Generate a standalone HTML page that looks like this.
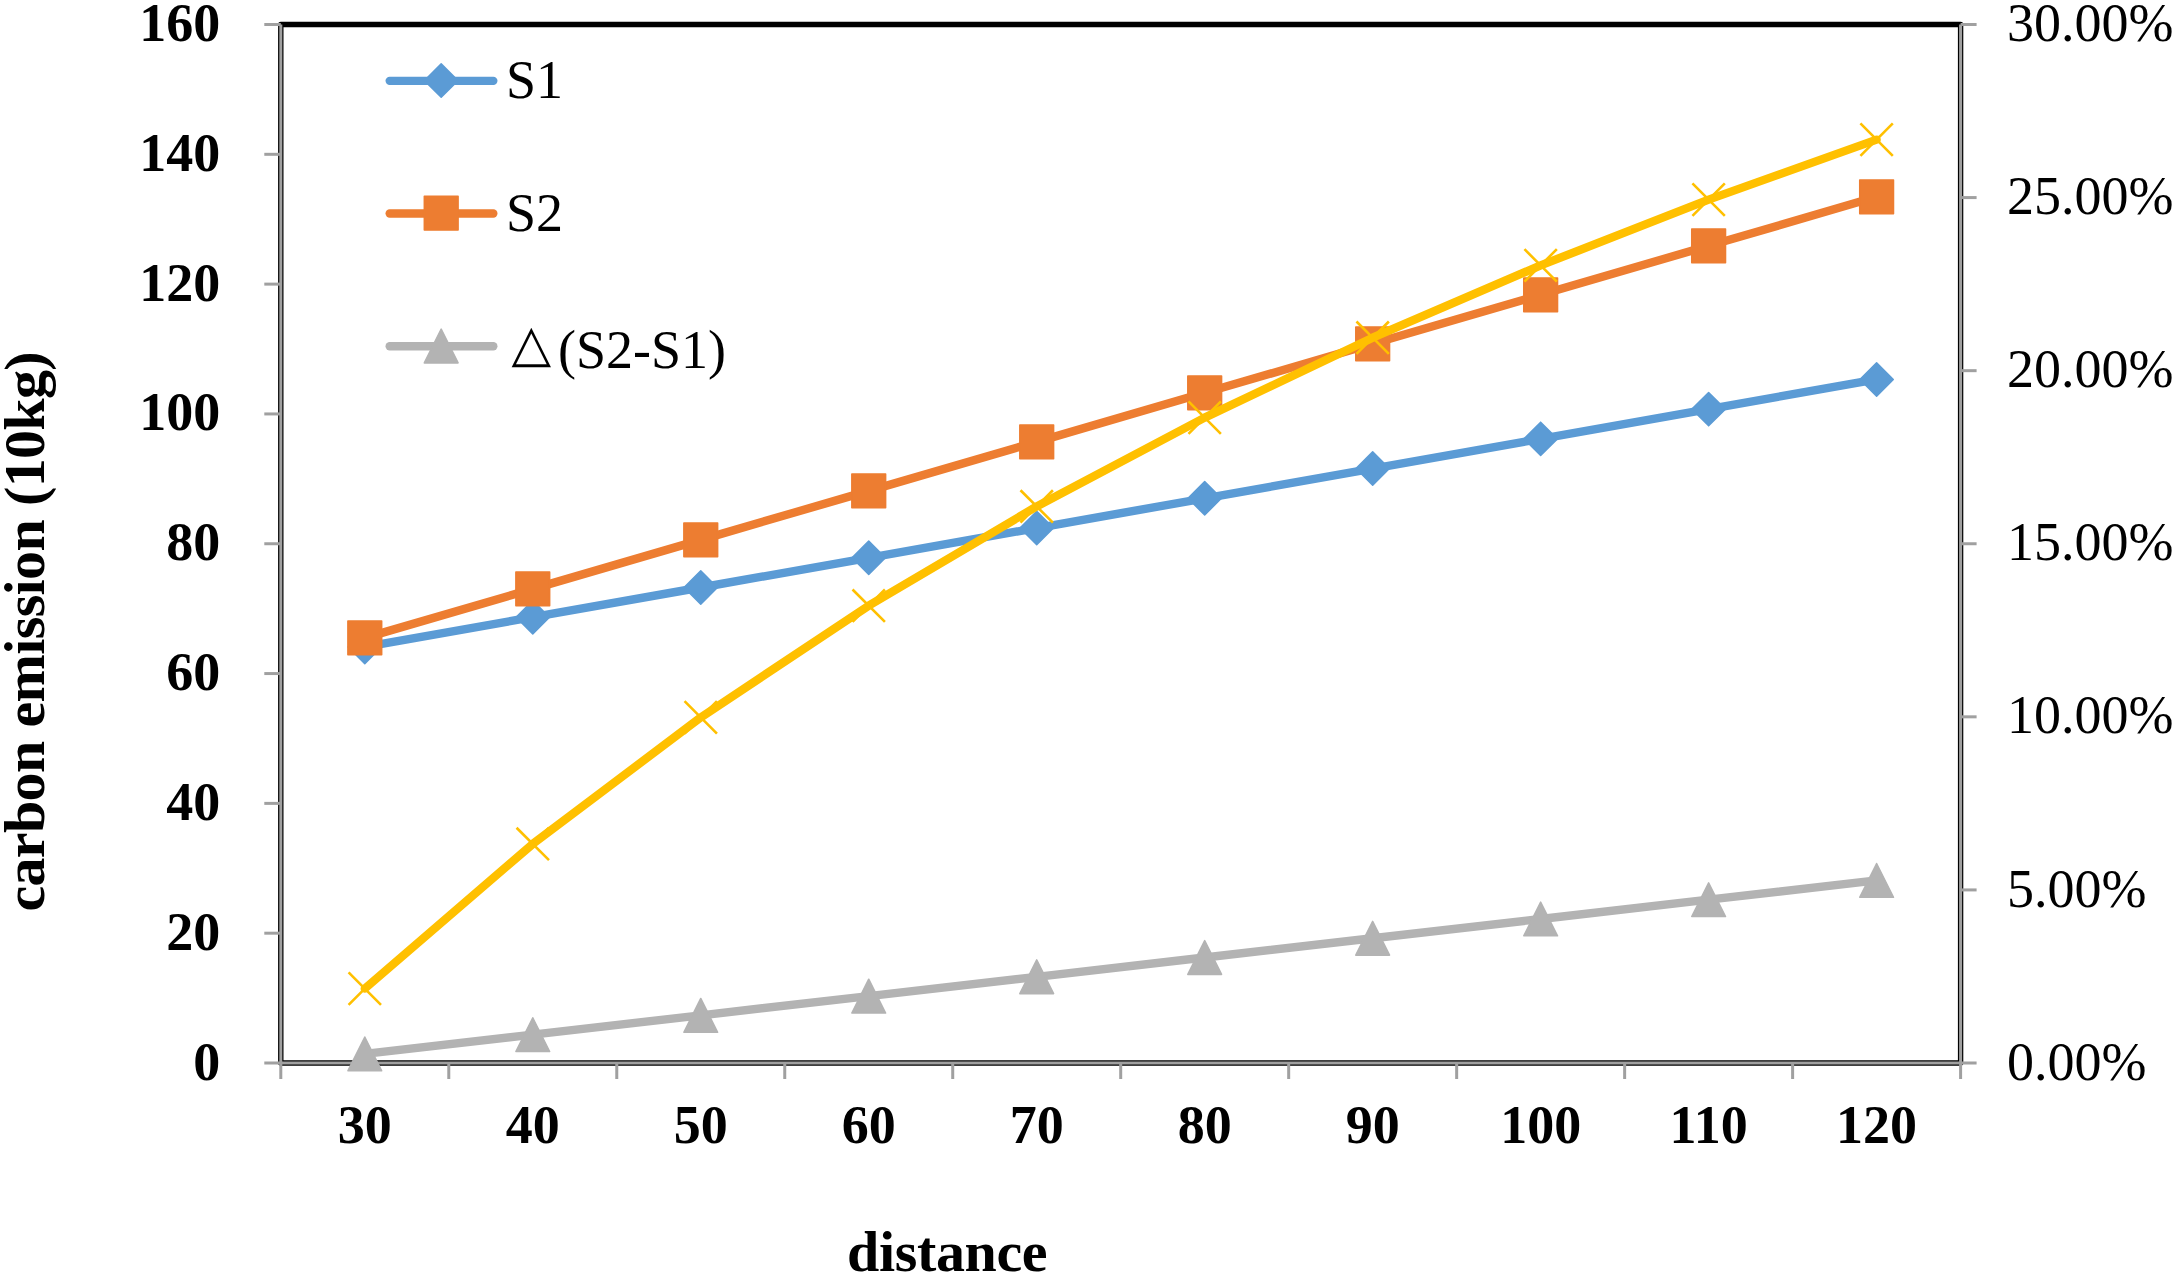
<!DOCTYPE html>
<html lang="en"><head><meta charset="utf-8"><title>carbon emission vs distance</title>
<style>
html,body{margin:0;padding:0;background:#fff;}
body{width:2177px;height:1276px;overflow:hidden;}
svg{display:block;}
text{font-family:"Liberation Serif","Noto Serif CJK SC",serif;fill:#000;}
.b{font-weight:bold;font-size:54px;}
.r{font-size:54px;}
.t{font-weight:bold;font-size:58px;}
</style></head><body>
<svg width="2177" height="1276" viewBox="0 0 2177 1276">
<rect width="2177" height="1276" fill="#fff"/>

<rect x="280.8" y="24.5" width="1679.8" height="1038.5" fill="none" stroke="#000" stroke-width="5.4" stroke-linejoin="round"/>
<g stroke="#A0A0A0" stroke-width="3" fill="none">
<path d="M280.8 24.5V1079.0M1960.6 24.5V1079.0M264.3 1063.0H1976.6"/>
<path d="M264.3 933.19H280.8"/>
<path d="M264.3 803.38H280.8"/>
<path d="M264.3 673.56H280.8"/>
<path d="M264.3 543.75H280.8"/>
<path d="M264.3 413.94H280.8"/>
<path d="M264.3 284.12H280.8"/>
<path d="M264.3 154.31H280.8"/>
<path d="M264.3 24.50H280.8"/>
<path d="M1960.6 889.92H1976.6"/>
<path d="M1960.6 716.83H1976.6"/>
<path d="M1960.6 543.75H1976.6"/>
<path d="M1960.6 370.67H1976.6"/>
<path d="M1960.6 197.58H1976.6"/>
<path d="M1960.6 24.50H1976.6"/>
<path d="M448.78 1063.0V1079.0"/>
<path d="M616.76 1063.0V1079.0"/>
<path d="M784.74 1063.0V1079.0"/>
<path d="M952.72 1063.0V1079.0"/>
<path d="M1120.70 1063.0V1079.0"/>
<path d="M1288.68 1063.0V1079.0"/>
<path d="M1456.66 1063.0V1079.0"/>
<path d="M1624.64 1063.0V1079.0"/>
<path d="M1792.62 1063.0V1079.0"/>
</g>
<polyline points="364.79,646.95 532.77,617.22 700.75,587.50 868.73,557.77 1036.71,528.04 1204.69,498.32 1372.67,468.59 1540.65,438.86 1708.63,409.13 1876.61,379.41" fill="none" stroke="#5B9BD5" stroke-width="8.4" stroke-linecap="round" stroke-linejoin="round"/>
<path d="M364.79 630.25L381.49 646.95L364.79 663.65L348.09 646.95Z" fill="#5B9BD5" stroke="#5B9BD5" stroke-width="1.5" stroke-linejoin="round"/>
<path d="M532.77 600.52L549.47 617.22L532.77 633.92L516.07 617.22Z" fill="#5B9BD5" stroke="#5B9BD5" stroke-width="1.5" stroke-linejoin="round"/>
<path d="M700.75 570.80L717.45 587.50L700.75 604.20L684.05 587.50Z" fill="#5B9BD5" stroke="#5B9BD5" stroke-width="1.5" stroke-linejoin="round"/>
<path d="M868.73 541.07L885.43 557.77L868.73 574.47L852.03 557.77Z" fill="#5B9BD5" stroke="#5B9BD5" stroke-width="1.5" stroke-linejoin="round"/>
<path d="M1036.71 511.34L1053.41 528.04L1036.71 544.74L1020.01 528.04Z" fill="#5B9BD5" stroke="#5B9BD5" stroke-width="1.5" stroke-linejoin="round"/>
<path d="M1204.69 481.62L1221.39 498.32L1204.69 515.02L1187.99 498.32Z" fill="#5B9BD5" stroke="#5B9BD5" stroke-width="1.5" stroke-linejoin="round"/>
<path d="M1372.67 451.89L1389.37 468.59L1372.67 485.29L1355.97 468.59Z" fill="#5B9BD5" stroke="#5B9BD5" stroke-width="1.5" stroke-linejoin="round"/>
<path d="M1540.65 422.16L1557.35 438.86L1540.65 455.56L1523.95 438.86Z" fill="#5B9BD5" stroke="#5B9BD5" stroke-width="1.5" stroke-linejoin="round"/>
<path d="M1708.63 392.43L1725.33 409.13L1708.63 425.83L1691.93 409.13Z" fill="#5B9BD5" stroke="#5B9BD5" stroke-width="1.5" stroke-linejoin="round"/>
<path d="M1876.61 362.71L1893.31 379.41L1876.61 396.11L1859.91 379.41Z" fill="#5B9BD5" stroke="#5B9BD5" stroke-width="1.5" stroke-linejoin="round"/>
<polyline points="364.79,637.86 532.77,588.86 700.75,539.86 868.73,490.85 1036.71,441.85 1204.69,392.84 1372.67,343.84 1540.65,294.83 1708.63,245.83 1876.61,196.83" fill="none" stroke="#ED7D31" stroke-width="8.4" stroke-linecap="round" stroke-linejoin="round"/>
<rect x="347.89" y="620.96" width="33.8" height="33.8" fill="#ED7D31" stroke="#ED7D31" stroke-width="1.5" stroke-linejoin="round"/>
<rect x="515.87" y="571.96" width="33.8" height="33.8" fill="#ED7D31" stroke="#ED7D31" stroke-width="1.5" stroke-linejoin="round"/>
<rect x="683.85" y="522.96" width="33.8" height="33.8" fill="#ED7D31" stroke="#ED7D31" stroke-width="1.5" stroke-linejoin="round"/>
<rect x="851.83" y="473.95" width="33.8" height="33.8" fill="#ED7D31" stroke="#ED7D31" stroke-width="1.5" stroke-linejoin="round"/>
<rect x="1019.81" y="424.95" width="33.8" height="33.8" fill="#ED7D31" stroke="#ED7D31" stroke-width="1.5" stroke-linejoin="round"/>
<rect x="1187.79" y="375.94" width="33.8" height="33.8" fill="#ED7D31" stroke="#ED7D31" stroke-width="1.5" stroke-linejoin="round"/>
<rect x="1355.77" y="326.94" width="33.8" height="33.8" fill="#ED7D31" stroke="#ED7D31" stroke-width="1.5" stroke-linejoin="round"/>
<rect x="1523.75" y="277.93" width="33.8" height="33.8" fill="#ED7D31" stroke="#ED7D31" stroke-width="1.5" stroke-linejoin="round"/>
<rect x="1691.73" y="228.93" width="33.8" height="33.8" fill="#ED7D31" stroke="#ED7D31" stroke-width="1.5" stroke-linejoin="round"/>
<rect x="1859.71" y="179.93" width="33.8" height="33.8" fill="#ED7D31" stroke="#ED7D31" stroke-width="1.5" stroke-linejoin="round"/>
<polyline points="364.79,1053.91 532.77,1034.64 700.75,1015.36 868.73,996.08 1036.71,976.80 1204.69,957.53 1372.67,938.25 1540.65,918.97 1708.63,899.70 1876.61,880.42" fill="none" stroke="#B3B3B3" stroke-width="8.4" stroke-linecap="round" stroke-linejoin="round"/>
<path d="M364.79 1037.01L381.69 1070.81H347.89Z" fill="#B3B3B3" stroke="#B3B3B3" stroke-width="1.5" stroke-linejoin="round"/>
<path d="M532.77 1017.74L549.67 1051.54H515.87Z" fill="#B3B3B3" stroke="#B3B3B3" stroke-width="1.5" stroke-linejoin="round"/>
<path d="M700.75 998.46L717.65 1032.26H683.85Z" fill="#B3B3B3" stroke="#B3B3B3" stroke-width="1.5" stroke-linejoin="round"/>
<path d="M868.73 979.18L885.63 1012.98H851.83Z" fill="#B3B3B3" stroke="#B3B3B3" stroke-width="1.5" stroke-linejoin="round"/>
<path d="M1036.71 959.90L1053.61 993.70H1019.81Z" fill="#B3B3B3" stroke="#B3B3B3" stroke-width="1.5" stroke-linejoin="round"/>
<path d="M1204.69 940.63L1221.59 974.43H1187.79Z" fill="#B3B3B3" stroke="#B3B3B3" stroke-width="1.5" stroke-linejoin="round"/>
<path d="M1372.67 921.35L1389.57 955.15H1355.77Z" fill="#B3B3B3" stroke="#B3B3B3" stroke-width="1.5" stroke-linejoin="round"/>
<path d="M1540.65 902.07L1557.55 935.87H1523.75Z" fill="#B3B3B3" stroke="#B3B3B3" stroke-width="1.5" stroke-linejoin="round"/>
<path d="M1708.63 882.80L1725.53 916.60H1691.73Z" fill="#B3B3B3" stroke="#B3B3B3" stroke-width="1.5" stroke-linejoin="round"/>
<path d="M1876.61 863.52L1893.51 897.32H1859.71Z" fill="#B3B3B3" stroke="#B3B3B3" stroke-width="1.5" stroke-linejoin="round"/>
<polyline points="364.79,988.61 532.77,843.95 700.75,717.38 868.73,605.71 1036.71,506.45 1204.69,417.64 1372.67,337.71 1540.65,265.39 1708.63,199.65 1876.61,139.63" fill="none" stroke="#FFC000" stroke-width="8.4" stroke-linecap="round" stroke-linejoin="round"/>
<path d="M348.59 972.41L380.99 1004.81M348.59 1004.81L380.99 972.41" fill="none" stroke="#FFC000" stroke-width="2.6"/>
<path d="M516.57 827.75L548.97 860.15M516.57 860.15L548.97 827.75" fill="none" stroke="#FFC000" stroke-width="2.6"/>
<path d="M684.55 701.18L716.95 733.58M684.55 733.58L716.95 701.18" fill="none" stroke="#FFC000" stroke-width="2.6"/>
<path d="M852.53 589.51L884.93 621.91M852.53 621.91L884.93 589.51" fill="none" stroke="#FFC000" stroke-width="2.6"/>
<path d="M1020.51 490.25L1052.91 522.65M1020.51 522.65L1052.91 490.25" fill="none" stroke="#FFC000" stroke-width="2.6"/>
<path d="M1188.49 401.44L1220.89 433.84M1188.49 433.84L1220.89 401.44" fill="none" stroke="#FFC000" stroke-width="2.6"/>
<path d="M1356.47 321.51L1388.87 353.91M1356.47 353.91L1388.87 321.51" fill="none" stroke="#FFC000" stroke-width="2.6"/>
<path d="M1524.45 249.19L1556.85 281.59M1524.45 281.59L1556.85 249.19" fill="none" stroke="#FFC000" stroke-width="2.6"/>
<path d="M1692.43 183.45L1724.83 215.85M1692.43 215.85L1724.83 183.45" fill="none" stroke="#FFC000" stroke-width="2.6"/>
<path d="M1860.41 123.43L1892.81 155.83M1860.41 155.83L1892.81 123.43" fill="none" stroke="#FFC000" stroke-width="2.6"/>
<path d="M389.7 80.85H493.3" stroke="#5B9BD5" stroke-width="8.4" stroke-linecap="round" fill="none"/>
<path d="M441.20 63.90L457.90 80.60L441.20 97.30L424.50 80.60Z" fill="#5B9BD5" stroke="#5B9BD5" stroke-width="1.5" stroke-linejoin="round"/>
<text class="r" x="505.9" y="97.8">S1</text>
<path d="M389.7 213.45H493.3" stroke="#ED7D31" stroke-width="8.4" stroke-linecap="round" fill="none"/>
<rect x="424.30" y="196.30" width="33.8" height="33.8" fill="#ED7D31" stroke="#ED7D31" stroke-width="1.5" stroke-linejoin="round"/>
<text class="r" x="505.9" y="230.7">S2</text>
<path d="M389.7 346.25H493.3" stroke="#B3B3B3" stroke-width="8.4" stroke-linecap="round" fill="none"/>
<path d="M441.20 329.10L458.10 362.90H424.30Z" fill="#B3B3B3" stroke="#B3B3B3" stroke-width="1.5" stroke-linejoin="round"/>
<text x="511.6" y="361.0" style="font-family:&quot;Liberation Serif&quot;,&quot;DejaVu Sans&quot;,sans-serif;font-size:51.5px">△</text>
<text class="r" x="558.0" y="368.0">(S2-S1)</text>
<text class="b" x="220.3" y="1079.50" text-anchor="end">0</text>
<text class="b" x="220.3" y="949.69" text-anchor="end">20</text>
<text class="b" x="220.3" y="819.88" text-anchor="end">40</text>
<text class="b" x="220.3" y="690.06" text-anchor="end">60</text>
<text class="b" x="220.3" y="560.25" text-anchor="end">80</text>
<text class="b" x="220.3" y="430.44" text-anchor="end">100</text>
<text class="b" x="220.3" y="300.62" text-anchor="end">120</text>
<text class="b" x="220.3" y="170.81" text-anchor="end">140</text>
<text class="b" x="220.3" y="41.00" text-anchor="end">160</text>
<text class="r" x="2007" y="1079.60">0.00%</text>
<text class="r" x="2007" y="906.52">5.00%</text>
<text class="r" x="2007" y="733.43">10.00%</text>
<text class="r" x="2007" y="560.35">15.00%</text>
<text class="r" x="2007" y="387.27">20.00%</text>
<text class="r" x="2007" y="214.18">25.00%</text>
<text class="r" x="2007" y="41.10">30.00%</text>
<text class="b" x="364.79" y="1142.5" text-anchor="middle">30</text>
<text class="b" x="532.77" y="1142.5" text-anchor="middle">40</text>
<text class="b" x="700.75" y="1142.5" text-anchor="middle">50</text>
<text class="b" x="868.73" y="1142.5" text-anchor="middle">60</text>
<text class="b" x="1036.71" y="1142.5" text-anchor="middle">70</text>
<text class="b" x="1204.69" y="1142.5" text-anchor="middle">80</text>
<text class="b" x="1372.67" y="1142.5" text-anchor="middle">90</text>
<text class="b" x="1540.65" y="1142.5" text-anchor="middle">100</text>
<text class="b" x="1708.63" y="1142.5" text-anchor="middle">110</text>
<text class="b" x="1876.61" y="1142.5" text-anchor="middle">120</text>
<text class="t" x="847" y="1271" textLength="200.6" lengthAdjust="spacing">distance</text>
<text class="t" transform="translate(43.6 911.6) rotate(-90)" textLength="560.3" lengthAdjust="spacing">carbon emission (10kg)</text>
</svg></body></html>
